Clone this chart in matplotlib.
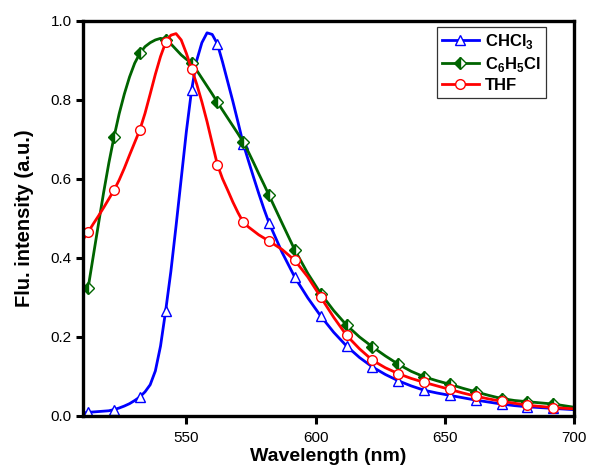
import numpy as np
import matplotlib
matplotlib.use("Agg")
import matplotlib.pyplot as plt

plt.rcParams['font.family'] = ['Liberation Sans', 'DejaVu Sans']
plt.rcParams['mathtext.fontset'] = 'custom'
plt.rcParams['mathtext.bf'] = 'Liberation Sans:bold'
plt.rcParams['mathtext.rm'] = 'Liberation Sans'

# ---- data ----
wavelength = list(range(510, 583, 2)) + list(range(587, 703, 5))

chcl3 = [0.006, 0.008, 0.009, 0.010, 0.011, 0.012, 0.015, 0.019, 0.024, 0.030,
         0.038, 0.047, 0.060, 0.078, 0.113, 0.176, 0.266, 0.365, 0.480, 0.600,
         0.720, 0.824, 0.900, 0.945, 0.970, 0.966, 0.942, 0.896, 0.846, 0.796,
         0.743, 0.689, 0.646, 0.604, 0.563, 0.524, 0.488,
         0.414, 0.350, 0.298, 0.252, 0.211, 0.176, 0.147, 0.123, 0.104, 0.088,
         0.075, 0.064, 0.057, 0.051, 0.045, 0.039, 0.034, 0.029, 0.025, 0.022,
         0.020, 0.018, 0.016, 0.014]

c6h5cl = [np.nan, 0.324, 0.405, 0.486, 0.566, 0.640, 0.706, 0.765, 0.815, 0.858,
          0.893, 0.918, 0.935, 0.945, 0.952, 0.956, 0.953, 0.942, 0.928, 0.914,
          0.903, 0.893, 0.875, 0.855, 0.835, 0.815, 0.794, 0.774, 0.754, 0.734,
          0.714, 0.693, 0.668, 0.641, 0.613, 0.586, 0.558,
          0.488, 0.419, 0.360, 0.309, 0.266, 0.229, 0.199, 0.174, 0.151, 0.130,
          0.112, 0.098, 0.088, 0.079, 0.069, 0.060, 0.051, 0.043, 0.038, 0.035,
          0.032, 0.029, 0.024, 0.019]

thf = [0.446, 0.465, 0.486, 0.506, 0.527, 0.549, 0.571, 0.597, 0.627, 0.660,
       0.692, 0.724, 0.766, 0.815, 0.865, 0.910, 0.946, 0.964, 0.968, 0.952,
       0.918, 0.879, 0.840, 0.795, 0.745, 0.690, 0.636, 0.600, 0.571, 0.541,
       0.514, 0.490, 0.478, 0.468, 0.458, 0.450, 0.442,
       0.421, 0.393, 0.351, 0.300, 0.249, 0.203, 0.169, 0.140, 0.121, 0.106,
       0.094, 0.084, 0.075, 0.066, 0.057, 0.049, 0.042, 0.036, 0.031, 0.026,
       0.023, 0.020, 0.018, 0.016]

marker_wavelengths = list(range(512, 703, 10))

x_ticks = [550, 600, 650, 700]
y_ticks = [0.0, 0.2, 0.4, 0.6, 0.8, 1.0]

wl = np.array(wavelength)
mark_idx = [i for i, w in enumerate(wavelength) if w in marker_wavelengths]

fig = plt.figure(figsize=(5.92, 4.71), dpi=100)
ax = fig.add_axes([83/592, 1 - 415.5/471, (574 - 83)/592, (415.5 - 21)/471])

lw = 2.0
ax.plot(wl, chcl3, color='#0000FF', lw=lw, marker='^', ms=7.5, mfc='white',
        mec='#0000FF', mew=1.0, markevery=mark_idx, label=r'CHCl$_\mathbf{3}$')
ax.plot(wl, c6h5cl, color='#006400', lw=lw, marker='D', ms=6, mfc='#006400',
        mfcalt='white', fillstyle='left', mec='#006400', mew=1.0,
        markevery=mark_idx, label=r'C$_\mathbf{6}$H$_\mathbf{5}$Cl')
ax.plot(wl, thf, color='#FF0000', lw=lw, marker='o', ms=7, mfc='white',
        mec='#FF0000', mew=1.0, markevery=mark_idx, label='THF')

ax.set_xlim(510, 700)
ax.set_ylim(0, 1.0)
ax.set_xticks(x_ticks)
ax.set_yticks(y_ticks)
ax.set_yticklabels([f'{v:.1f}' for v in y_ticks])

for s in ax.spines.values():
    s.set_linewidth(2.4)
ax.tick_params(axis='both', direction='out', width=2.2, labelsize=11)
ax.tick_params(axis='x', length=6, pad=5)
ax.tick_params(axis='y', length=5, pad=3)

ax.set_xlabel('Wavelength (nm)', fontsize=14, fontweight='bold', labelpad=2)
ax.set_ylabel('Flu. intensity (a.u.)', fontsize=14.5, fontweight='bold', labelpad=12)

leg = ax.legend(loc='upper right', bbox_to_anchor=(0.943, 0.985),
                prop={'weight': 'bold', 'size': 12}, frameon=True, fancybox=False,
                edgecolor='black', handlelength=2.2, handletextpad=0.4,
                labelspacing=0.25, borderpad=0.3, borderaxespad=0.0)
leg.get_frame().set_linewidth(0.9)

fig.savefig('out.png', dpi=100)
